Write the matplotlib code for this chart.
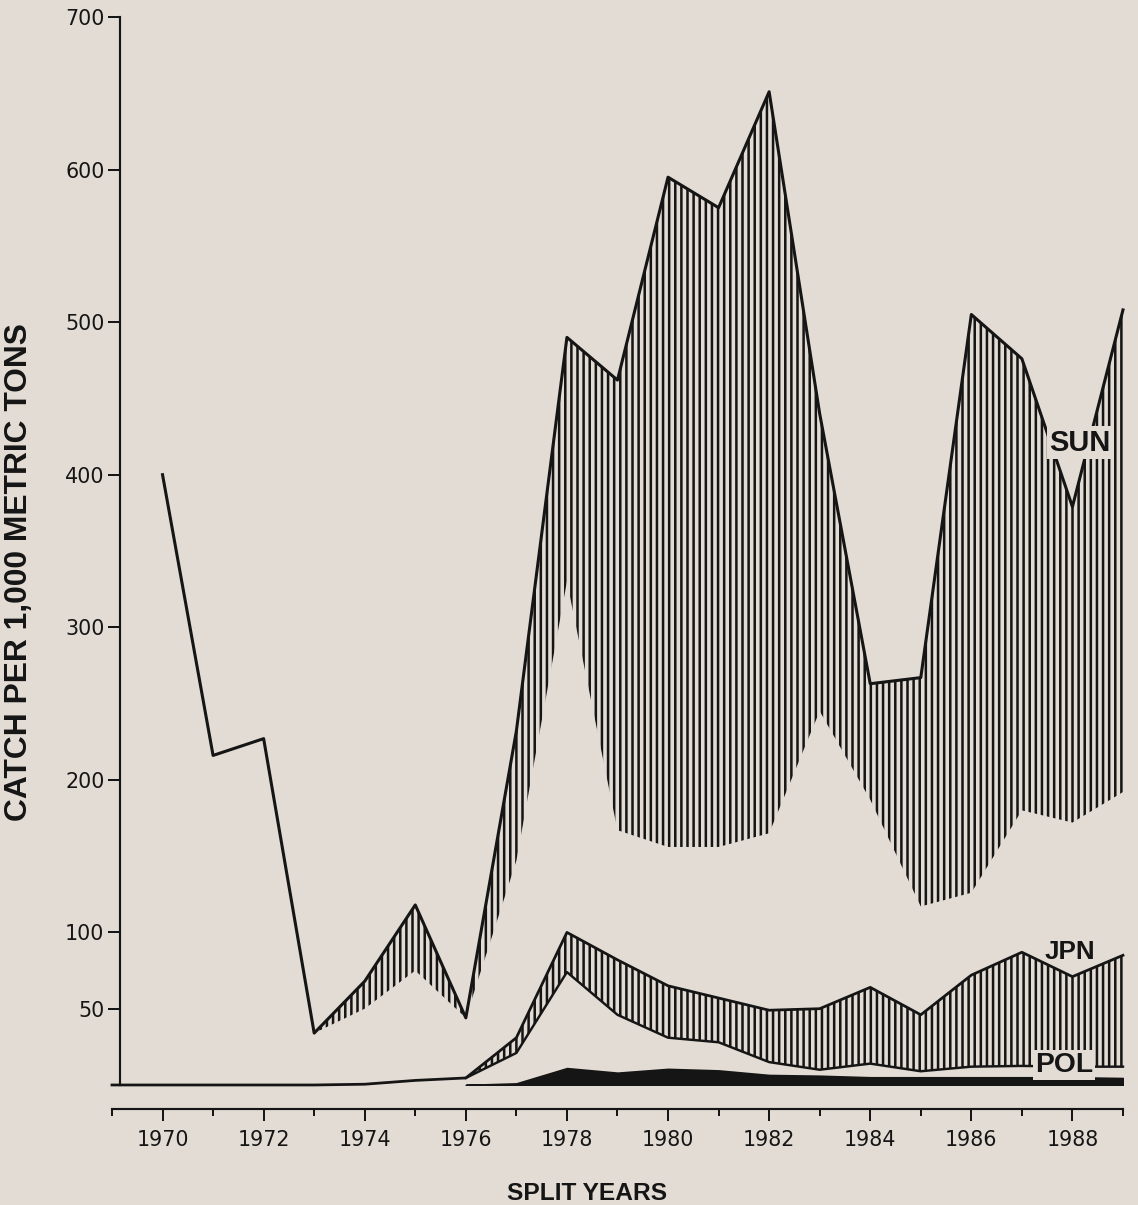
import numpy as np
import matplotlib.pyplot as plt

# valores (captura por 1.000 t metricas), curvas acumuladas
years = np.arange(1969, 1990)
sun_total = [np.nan, 400, 216, 227, 34, 68, 118, 44, 232, 490, 462,
             595, 575, 651, 440, 263, 267, 505, 476, 379, 508]
jpn_total = [0, 0, 0, 0, 0, 0.5, 3, 4.6, 31, 100, 82,
             65, 57, 49, 50, 64, 46, 72, 87, 71, 85]
mid_line = [np.nan] * 7 + [4.6, 21, 74, 46, 31, 28, 15, 10, 14, 9, 12, 12.5, 12, 12]
pol_total = [np.nan] * 7 + [0, 1, 11, 8, 10.5, 9.5, 6.5, 6, 5, 5, 5, 5, 5, 4.5]
# hasta donde llega el rayado visible de SUN en la copia escaneada
sun_shade_floor = [np.nan] * 4 + [34, 50, 75, 44, 147, 330, 167, 156, 156,
                                  165, 245, 187, 117, 126, 180, 172, 192]

y_ticks = [50, 100, 200, 300, 400, 500, 600, 700]
x_major = list(range(1970, 1989, 2))
x_minor = list(range(1969, 1990, 2))

bg = '#e3dcd4'
ink = '#151515'
plt.rcParams['hatch.linewidth'] = 1.65
plt.rcParams['hatch.color'] = ink

fig = plt.figure(figsize=(1138 / 110, 1205 / 110), dpi=110, facecolor=bg)
ax = fig.add_axes([0.0984, 0.0996, 0.8884, 0.8863])
ax.set_facecolor(bg)

sun = np.array(sun_total, dtype=float)
jpn = np.array(jpn_total, dtype=float)
mid = np.array(mid_line, dtype=float)
pol = np.array(pol_total, dtype=float)
floor = np.maximum(np.array(sun_shade_floor, dtype=float), jpn)

# bandas rayadas
ax.fill_between(years, floor, sun, facecolor='none', edgecolor=ink,
                hatch='|||', linewidth=0)
ax.fill_between(years, mid, jpn, facecolor='none', edgecolor=ink,
                hatch='|||', linewidth=0)
# POL en negro
ax.fill_between(years, 0, pol, facecolor=ink, edgecolor=ink, linewidth=1.2)

# contornos
ax.plot(years, sun, color=ink, lw=2.0, clip_on=False)
ax.plot(years, jpn, color=ink, lw=1.8, clip_on=False)
ax.plot(years, mid, color=ink, lw=1.6, clip_on=False)

# etiquetas de las series
ax.text(1988.15, 421, 'SUN', family='Liberation Sans', weight='bold',
        fontsize=19, color=ink, ha='center', va='center',
        bbox=dict(boxstyle='square,pad=0.08', fc=bg, ec='none'))
ax.text(1987.95, 87, 'JPN', family='Liberation Sans', weight='bold',
        fontsize=17, color=ink, ha='center', va='center')
ax.text(1987.83, 13, 'POL', family='Liberation Sans', weight='bold',
        fontsize=18.5, color=ink, ha='center', va='center',
        bbox=dict(boxstyle='square,pad=0.08', fc=bg, ec='none'))

ax.set_xlim(1969, 1989)
ax.set_ylim(0, 700)

ax.spines['top'].set_visible(False)
ax.spines['right'].set_visible(False)
ax.spines['left'].set_position(('data', 1969.15))
ax.spines['bottom'].set_position(('outward', 15.7))
for s in ['left', 'bottom']:
    ax.spines[s].set_linewidth(1.4)
    ax.spines[s].set_color(ink)

ax.set_yticks(y_ticks)
ax.set_yticklabels([str(v) for v in y_ticks])
ax.set_xticks(x_major)
ax.set_xticklabels([str(v) for v in x_major])
ax.set_xticks(x_minor, minor=True)
ax.tick_params(axis='x', which='major', length=7.9, width=1.3, pad=6.0,
               labelsize=13.5, colors=ink)
ax.tick_params(axis='x', which='minor', length=4.6, width=1.3, colors=ink)
ax.tick_params(axis='y', length=7.9, width=1.3, pad=2, labelsize=13.5, colors=ink)

fig.text(19 / 1138, 1 - 572 / 1205, 'CATCH PER 1,000 METRIC TONS',
         family='Liberation Sans', weight='bold', fontsize=20.8, color=ink,
         rotation=90, ha='center', va='center')
fig.text(587 / 1138, 1 - 1194 / 1205, 'SPLIT YEARS',
         family='Liberation Sans', weight='bold', fontsize=16, color=ink,
         ha='center', va='center')

fig.savefig('out.png', dpi=110, facecolor=bg)
